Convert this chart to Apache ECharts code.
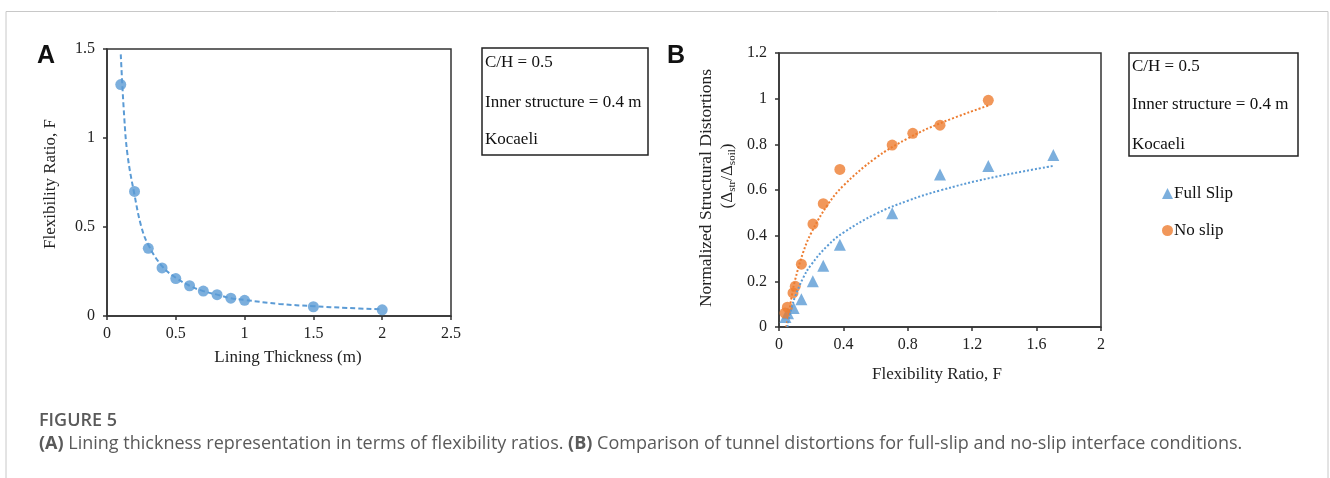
<!DOCTYPE html>
<html>
<head>
<meta charset="utf-8">
<script src="https://cdn.jsdelivr.net/npm/echarts@6/dist/echarts.min.js"></script>
<style>
  html, body { margin: 0; padding: 0; background: #fff; }
  #chart { width: 1330px; height: 478px; }
</style>
</head>
<body>
<div id="chart"></div>
<script>
// Panel A: lining thickness vs flexibility ratio
const thickness = [0.1, 0.2, 0.3, 0.4, 0.5, 0.6, 0.7, 0.8, 0.9, 1.0, 1.5, 2.0]
const flexRatio = [1.3, 0.7, 0.38, 0.27, 0.21, 0.17, 0.14, 0.12, 0.1, 0.088, 0.052, 0.035]
// dashed trend curve
const trendAX = [0.1, 0.125, 0.15, 0.2, 0.25, 0.3, 0.4, 0.5, 0.6, 0.7, 0.8, 0.9, 1.0, 1.25, 1.5, 1.75, 2.0]
const trendAY = [1.47, 1.12, 0.9, 0.68, 0.5, 0.4, 0.28, 0.215, 0.17, 0.14, 0.12, 0.1, 0.09, 0.068, 0.055, 0.045, 0.037]

// Panel B: normalized distortions vs flexibility ratio
const fullSlipX = [0.04, 0.056, 0.091, 0.139, 0.21, 0.275, 0.378, 0.703, 1.0, 1.3, 1.704]
const fullSlipY = [0.044, 0.06, 0.083, 0.122, 0.2, 0.268, 0.36, 0.498, 0.668, 0.705, 0.753]
const noSlipX = [0.037, 0.052, 0.087, 0.101, 0.139, 0.211, 0.275, 0.378, 0.703, 0.831, 1.0, 1.3]
const noSlipY = [0.061, 0.087, 0.149, 0.178, 0.275, 0.451, 0.54, 0.69, 0.797, 0.848, 0.884, 0.993]
// dotted trend curves
const trendNoX = [0.045, 0.06, 0.08, 0.1, 0.15, 0.2, 0.3, 0.4, 0.6, 0.8, 1.0, 1.3]
const trendNoY = [0, 0.054, 0.139, 0.206, 0.327, 0.412, 0.533, 0.619, 0.74, 0.826, 0.892, 0.97]
const trendFullX = [0.052, 0.06, 0.08, 0.1, 0.15, 0.2, 0.3, 0.4, 0.6, 0.8, 1.0, 1.3, 1.7]
const trendFullY = [0, 0.03, 0.088, 0.133, 0.215, 0.273, 0.355, 0.413, 0.495, 0.553, 0.598, 0.651, 0.705]

const infoLines = ['C/H = 0.5', 'Inner structure = 0.4 m', 'Kocaeli']

const pairs = (xs, ys) => xs.map((x, i) => [x, ys[i]])

const blue = '#5b9bd5'
const orange = '#ed7d31'
const serif = '"Liberation Serif", "Times New Roman", serif'
const axisColor = '#333'

const axisCommon = {
  axisLine: { show: true, onZero: false, lineStyle: { color: axisColor, width: 1.5 } },
  axisTick: { show: true, inside: false, length: 4, lineStyle: { color: axisColor, width: 1.5 } },
  splitLine: { show: false },
  axisLabel: { color: '#222', fontFamily: serif, fontSize: 16 },
}

const infoBox = (x, y, w, h, ys) => [
  { type: 'rect', shape: { x, y, width: w, height: h }, style: { fill: '#fff', stroke: '#222', lineWidth: 1.5 } },
  ...infoLines.map((t, i) => ({
    type: 'text', x: x + 3, y: ys[i],
    style: { text: t, fontFamily: serif, fontSize: 17, fill: '#111', verticalAlign: 'middle' }
  }))
]

const chart = echarts.init(document.getElementById('chart'))

chart.setOption({
  animation: false,
  grid: [
    { left: 107, top: 49, width: 344, height: 267, show: true, borderColor: axisColor, borderWidth: 1.5 },
    { left: 779, top: 53, width: 322, height: 274, show: true, borderColor: axisColor, borderWidth: 1.5 },
  ],
  xAxis: [
    { ...axisCommon, gridIndex: 0, type: 'value', min: 0, max: 2.5, interval: 0.5,
      axisLabel: { ...axisCommon.axisLabel, margin: 10 } },
    { ...axisCommon, gridIndex: 1, type: 'value', min: 0, max: 2, interval: 0.4,
      axisLabel: { ...axisCommon.axisLabel, margin: 10 } },
  ],
  yAxis: [
    { ...axisCommon, gridIndex: 0, type: 'value', min: 0, max: 1.5, interval: 0.5,
      axisLabel: { ...axisCommon.axisLabel, margin: 12 } },
    { ...axisCommon, gridIndex: 1, type: 'value', min: 0, max: 1.2, interval: 0.2,
      axisLabel: { ...axisCommon.axisLabel, margin: 12 } },
  ],
  legend: {
    data: ['Full Slip', 'No slip'],
    orient: 'vertical',
    left: 1157, top: 180,
    itemWidth: 11, itemHeight: 11, itemGap: 20,
    textStyle: { fontFamily: serif, fontSize: 17, color: '#111', padding: [0, 0, 0, -4] },
  },
  series: [
    { name: 'trendA', type: 'line', xAxisIndex: 0, yAxisIndex: 0, data: pairs(trendAX, trendAY),
      smooth: 0.4, showSymbol: false, silent: true,
      lineStyle: { color: blue, width: 2, type: [5, 3] } },
    { name: 'Flexibility', type: 'scatter', xAxisIndex: 0, yAxisIndex: 0, data: pairs(thickness, flexRatio),
      symbol: 'circle', symbolSize: 11, itemStyle: { color: blue } },

    { name: 'trendNo', type: 'line', xAxisIndex: 1, yAxisIndex: 1, data: pairs(trendNoX, trendNoY),
      smooth: 0.4, showSymbol: false, silent: true,
      lineStyle: { color: orange, width: 2, type: [2, 2] } },
    { name: 'trendFull', type: 'line', xAxisIndex: 1, yAxisIndex: 1, data: pairs(trendFullX, trendFullY),
      smooth: 0.4, showSymbol: false, silent: true,
      lineStyle: { color: blue, width: 2, type: [2, 2] } },
    { name: 'Full Slip', type: 'scatter', xAxisIndex: 1, yAxisIndex: 1, data: pairs(fullSlipX, fullSlipY),
      symbol: 'triangle', symbolSize: 12, itemStyle: { color: blue } },
    { name: 'No slip', type: 'scatter', xAxisIndex: 1, yAxisIndex: 1, data: pairs(noSlipX, noSlipY),
      symbol: 'circle', symbolSize: 11, itemStyle: { color: orange } },
  ],
  graphic: [
    // outer frame
    { type: 'rect', shape: { x: 6, y: 11.5, width: 1322, height: 500 }, silent: true, z: -10,
      style: { fill: 'none', stroke: '#c8c8c8', lineWidth: 1 } },
    { type: 'text', x: 37, y: 56, style: { text: 'A', fontFamily: '"Liberation Sans", Arial, sans-serif',
      fontWeight: 'bold', fontSize: 25, fill: '#111', verticalAlign: 'middle' } },
    { type: 'text', x: 667, y: 56, style: { text: 'B', fontFamily: '"Liberation Sans", Arial, sans-serif',
      fontWeight: 'bold', fontSize: 25, fill: '#111', verticalAlign: 'middle' } },
    // axis titles
    { type: 'text', x: 288, y: 358, style: { text: 'Lining Thickness (m)', fontFamily: serif, fontSize: 17,
      fill: '#222', align: 'center', verticalAlign: 'middle' } },
    { type: 'text', x: 51, y: 184, rotation: Math.PI / 2, style: { text: 'Flexibility Ratio, F', fontFamily: serif,
      fontSize: 17, fill: '#222', align: 'center', verticalAlign: 'middle' } },
    { type: 'text', x: 937, y: 375, style: { text: 'Flexibility Ratio, F', fontFamily: serif, fontSize: 17,
      fill: '#222', align: 'center', verticalAlign: 'middle' } },
    { type: 'text', x: 706, y: 188, rotation: Math.PI / 2, style: { text: 'Normalized Structural Distortions',
      fontFamily: serif, fontSize: 17.5, fill: '#222', align: 'center', verticalAlign: 'middle' } },
    { type: 'text', x: 728, y: 176, rotation: Math.PI / 2, style: {
      text: '(Δ{s|str}/Δ{s|soil})', fontFamily: serif, fontSize: 17, fill: '#222', align: 'center', verticalAlign: 'middle',
      rich: { s: { fontFamily: serif, fontSize: 11, fill: '#222', padding: [9, 0, 0, 0] } } } },
    // info boxes
    ...infoBox(482, 48, 166, 107, [63, 103, 140]),
    ...infoBox(1129, 53, 169, 103, [67, 105, 145]),
    // caption
    { type: 'text', x: 39, y: 421, style: { text: 'FIGURE 5', fontFamily: '"Open Sans", sans-serif',
      fontWeight: 600, fontSize: 18, fill: '#5a5a5a', verticalAlign: 'middle' } },
    { type: 'text', x: 39, y: 444, style: {
      text: '{b|(A)} Lining thickness representation in terms of flexibility ratios. {b|(B)} Comparison of tunnel distortions for full-slip and no-slip interface conditions.',
      fontFamily: '"Open Sans", sans-serif', fontSize: 18, fill: '#5a5a5a', verticalAlign: 'middle',
      rich: { b: { fontFamily: '"Open Sans", sans-serif', fontSize: 18, fontWeight: 'bold', fill: '#5a5a5a' } } } },
  ],
})

window.addEventListener('resize', () => chart.resize())
</script>
</body>
</html>
